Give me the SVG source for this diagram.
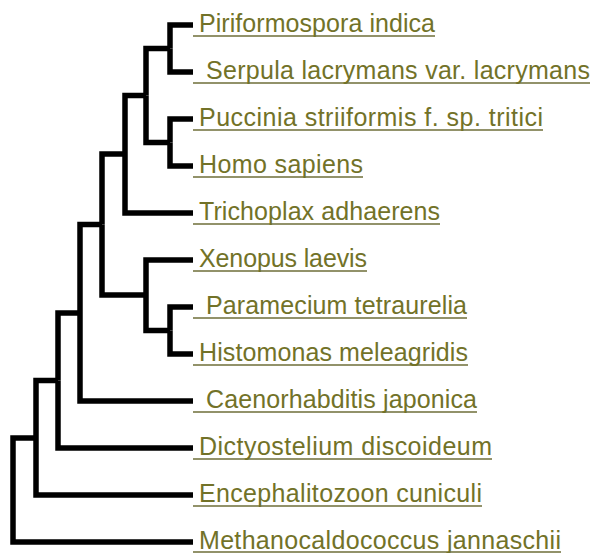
<svg xmlns="http://www.w3.org/2000/svg" width="595" height="553" viewBox="0 0 595 553">
<style>
.edge{fill:none;stroke:#000;stroke-width:5.5;stroke-linejoin:miter;stroke-linecap:butt}
.lbl{font-family:"Liberation Sans",Arial,sans-serif;font-size:25px;fill:#727228}
.ul{stroke:#92926a;stroke-width:2}
</style>
<rect width="595" height="553" fill="#fff"/>
<g id="connectors">
<path class="edge" d="M170 48.5V25H193"/>
<path class="edge" d="M170 48.5V72H193"/>
<path class="edge" d="M170 142.5V119H193"/>
<path class="edge" d="M170 142.5V166H193"/>
<path class="edge" d="M146 95.5V48.5H170"/>
<path class="edge" d="M146 95.5V142.5H170"/>
<path class="edge" d="M125 154V95.5H146"/>
<path class="edge" d="M125 154V213H193"/>
<path class="edge" d="M170 330.5V307H193"/>
<path class="edge" d="M170 330.5V354H193"/>
<path class="edge" d="M146 295V260H193"/>
<path class="edge" d="M146 295V330.5H170"/>
<path class="edge" d="M102 224.5V154H125"/>
<path class="edge" d="M102 224.5V295H146"/>
<path class="edge" d="M80 313V224.5H102"/>
<path class="edge" d="M80 313V401H193"/>
<path class="edge" d="M58 380.5V313H80"/>
<path class="edge" d="M58 380.5V448H193"/>
<path class="edge" d="M36 438V380.5H58"/>
<path class="edge" d="M36 438V495H193"/>
<path class="edge" d="M13 490V438H36"/>
<path class="edge" d="M13 490V542H193"/>
</g>
<g id="n-piriformospora"><line class="ul" x1="193" y1="36" x2="435" y2="36"/><text class="lbl" x="199" y="32" textLength="236">Piriformospora indica</text></g>
<g id="n-serpula"><line class="ul" x1="193" y1="83" x2="590" y2="83"/><text class="lbl" x="206" y="79" textLength="384">Serpula lacrymans var. lacrymans</text></g>
<g id="n-puccinia"><line class="ul" x1="193" y1="130" x2="543" y2="130"/><text class="lbl" x="199" y="126" textLength="344">Puccinia striiformis f. sp. tritici</text></g>
<g id="n-homo"><line class="ul" x1="193" y1="177" x2="363" y2="177"/><text class="lbl" x="199" y="173" textLength="164">Homo sapiens</text></g>
<g id="n-trichoplax"><line class="ul" x1="193" y1="224" x2="440" y2="224"/><text class="lbl" x="199" y="220" textLength="241">Trichoplax adhaerens</text></g>
<g id="n-xenopus"><line class="ul" x1="193" y1="271" x2="367" y2="271"/><text class="lbl" x="199" y="267" textLength="168">Xenopus laevis</text></g>
<g id="n-paramecium"><line class="ul" x1="193" y1="318" x2="467" y2="318"/><text class="lbl" x="206" y="314" textLength="261">Paramecium tetraurelia</text></g>
<g id="n-histomonas"><line class="ul" x1="193" y1="365" x2="468" y2="365"/><text class="lbl" x="199" y="361" textLength="269">Histomonas meleagridis</text></g>
<g id="n-caenorhabditis"><line class="ul" x1="193" y1="412" x2="477" y2="412"/><text class="lbl" x="206" y="408" textLength="271">Caenorhabditis japonica</text></g>
<g id="n-dictyostelium"><line class="ul" x1="193" y1="459" x2="492" y2="459"/><text class="lbl" x="199" y="455" textLength="293">Dictyostelium discoideum</text></g>
<g id="n-encephalitozoon"><line class="ul" x1="193" y1="506" x2="482" y2="506"/><text class="lbl" x="199" y="502" textLength="283">Encephalitozoon cuniculi</text></g>
<g id="n-methanocaldococcus"><line class="ul" x1="193" y1="552" x2="561" y2="552"/><text class="lbl" x="199" y="549" textLength="362">Methanocaldococcus jannaschii</text></g>
</svg>
